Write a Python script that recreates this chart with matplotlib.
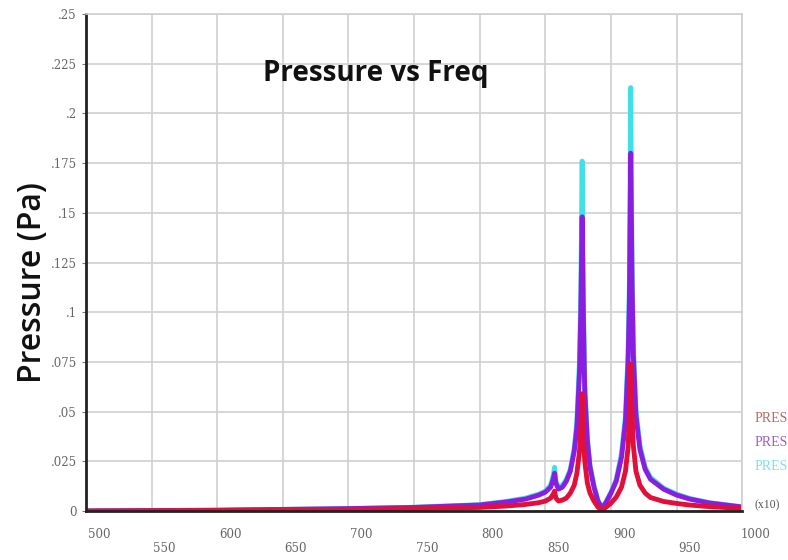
import matplotlib
matplotlib.use("Agg")
import matplotlib.pyplot as plt
import matplotlib.transforms as mtransforms

# frequency points (Hz) and pressure (Pa)
freq = [500, 600, 650, 700, 750, 800, 820, 835, 845, 850, 854, 856, 857,
        858, 860, 863, 866, 869, 872, 874, 876, 877, 878, 879, 880, 882,
        884, 887, 890, 893, 896, 900, 904, 908, 911, 913, 914, 915, 916,
        917, 919, 922, 926, 930, 940, 950, 960, 975, 1000]

pres_red = [0.0, 0.0003, 0.0005, 0.0008, 0.0012, 0.0018, 0.0025, 0.0033,
            0.0042, 0.005, 0.0065, 0.0085, 0.010, 0.0065, 0.005, 0.0055,
            0.0065, 0.009, 0.013, 0.019, 0.030, 0.042, 0.059, 0.038, 0.025,
            0.014, 0.009, 0.005, 0.002, 0.0005, 0.0018, 0.004, 0.007, 0.012,
            0.020, 0.032, 0.048, 0.074, 0.050, 0.033, 0.020, 0.013, 0.009,
            0.0068, 0.0048, 0.0038, 0.003, 0.0022, 0.0013]

pres_purple = [0.0, 0.0004, 0.0008, 0.0012, 0.0018, 0.003, 0.0045, 0.006,
               0.008, 0.0095, 0.012, 0.016, 0.019, 0.014, 0.011, 0.012,
               0.015, 0.020, 0.030, 0.042, 0.070, 0.100, 0.148, 0.095, 0.060,
               0.035, 0.022, 0.012, 0.005, 0.0015, 0.004, 0.009, 0.015,
               0.027, 0.045, 0.075, 0.105, 0.180, 0.115, 0.078, 0.048, 0.031,
               0.021, 0.016, 0.011, 0.008, 0.006, 0.004, 0.002]

pres_cyan = [0.0, 0.0004, 0.0008, 0.0012, 0.0019, 0.0032, 0.0048, 0.0065,
             0.0085, 0.010, 0.013, 0.018, 0.022, 0.015, 0.012, 0.013, 0.016,
             0.021, 0.032, 0.045, 0.076, 0.110, 0.176, 0.105, 0.064, 0.037,
             0.023, 0.013, 0.0055, 0.0017, 0.0045, 0.0095, 0.016, 0.029,
             0.048, 0.080, 0.115, 0.213, 0.125, 0.083, 0.051, 0.033, 0.022,
             0.017, 0.0115, 0.0085, 0.0063, 0.0042, 0.0021]

x_ticks = [500, 550, 600, 650, 700, 750, 800, 850, 900, 950, 1000]
y_ticks = [0, 0.025, 0.05, 0.075, 0.1, 0.125, 0.15, 0.175, 0.2, 0.225, 0.25]
y_labels = ["0", ".025", ".05", ".075", ".1", ".125", ".15", ".175", ".2",
            ".225", ".25"]
legend_names = ["PRES", "PRES", "PRES"]
legend_colors = ["#b86a66", "#9a60c8", "#7fe0e8"]

fig = plt.figure(figsize=(7.88, 5.6), dpi=100)
ax = fig.add_axes([0.109, 0.0875, 0.833, 0.8875])

ax.plot(freq, pres_cyan, color="#40e0e8", lw=3.5, solid_joinstyle="round")
ax.plot(freq, pres_purple, color="#8a1ee0", lw=3.5, solid_joinstyle="round")
ax.plot(freq, pres_red, color="#e0103a", lw=3.5, solid_joinstyle="round")

ax.set_xlim(500, 1000)
ax.set_ylim(0, 0.25)
ax.set_xticks(x_ticks)
ax.set_yticks(y_ticks)
ax.set_xticklabels([])
ax.set_yticklabels(y_labels, fontfamily="DejaVu Serif", fontsize=8.5,
                   color="#666666")
ax.tick_params(axis="both", length=3, color="#777777")
ax.tick_params(axis="x", length=0)
ax.grid(True, color="#cfcfcf", lw=1.2)

for side in ["top", "right"]:
    ax.spines[side].set_color("#cfcfcf")
    ax.spines[side].set_linewidth(1.2)
ax.spines["left"].set_color("#222222")
ax.spines["left"].set_linewidth(2)
ax.spines["bottom"].set_color("#222222")
ax.spines["bottom"].set_linewidth(2)

# staggered x labels, shifted right of their gridline like the original
trans = ax.get_xaxis_transform()
for i, t in enumerate(x_ticks):
    off = mtransforms.ScaledTranslation(0.13, -0.24 if i % 2 == 0 else -0.38,
                                        fig.dpi_scale_trans)
    ax.text(t, 0, str(t), transform=trans + off, ha="center", va="center",
            fontfamily="DejaVu Serif", fontsize=8.5, color="#666666")

ax.text(0.442, 0.881, "Pressure vs Freq", transform=ax.transAxes,
        ha="center", va="center", fontfamily="Open Sans", fontweight="bold",
        fontsize=20, color="#111111")

fig.text(0.041, 0.496, "Pressure (Pa)", rotation=90, ha="center", va="center",
         fontfamily="Open Sans", fontweight="semibold", fontsize=23,
         color="#111111")

for j, (name, col) in enumerate(zip(legend_names, legend_colors)):
    fig.text(0.957, 0.253 - j * 0.043, name, ha="left", va="center",
             fontfamily="Liberation Serif", fontsize=10, color=col)
fig.text(0.957, 0.098, "(x10)", ha="left", va="center",
         fontfamily="Liberation Serif", fontsize=8.5, color="#555555")

fig.savefig("out.png", dpi=100)
